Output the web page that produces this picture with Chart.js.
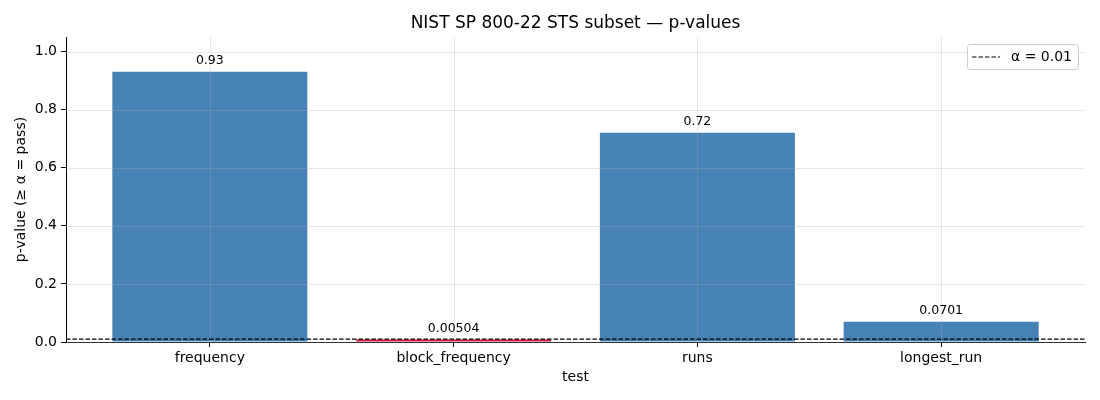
<!DOCTYPE html>
<html>
<head>
<meta charset="utf-8">
<script src="https://cdn.jsdelivr.net/npm/chart.js@4.4.1/dist/chart.umd.min.js"></script>
<style>
  html, body { margin: 0; padding: 0; background: #fff; }
  #wrap { width: 1100px; height: 400px; }
</style>
</head>
<body>
<div id="wrap"><canvas id="chart-pvalues" width="1100" height="400"></canvas></div>
<script>
  "use strict";

  // データ
  var TITLE = 'NIST SP 800-22 STS subset — p-values';
  var CATEGORIES = ['frequency', 'block_frequency', 'runs', 'longest_run'];
  var P_VALUES = [0.93, 0.00504, 0.72, 0.0701];
  var ALPHA = 0.01;
  var Y_TICKS = [0, 0.2, 0.4, 0.6, 0.8, 1.0];
  var X_TICKS = [0, 1, 2, 3];
  var X_MIN = -0.59, X_MAX = 3.59;
  var Y_MIN = 0, Y_MAX = 1.05;

  var FONT = "'DejaVu Sans', sans-serif";
  var GRID_COLOR = 'rgba(176,176,176,0.3)';

  /** 有効数字3桁 (%.3g 相当) */
  function fmt(v) {
    return String(Number(v.toPrecision(3)));
  }

  /** グリッドを棒の上に描く */
  var gridOnTop = {
    id: 'gridOnTop',
    afterDatasetDraw: function(chart, args) {
      if (args.index !== 0) return;
      var ctx = chart.ctx, a = chart.chartArea;
      var xs = chart.scales.x, ys = chart.scales.y;
      ctx.save();
      ctx.strokeStyle = GRID_COLOR;
      ctx.lineWidth = 1;
      ctx.beginPath();
      Y_TICKS.forEach(function(v) {
        var y = Math.round(ys.getPixelForValue(v)) + 0.5;
        ctx.moveTo(a.left, y); ctx.lineTo(a.right, y);
      });
      X_TICKS.forEach(function(v) {
        var x = Math.round(xs.getPixelForValue(v)) + 0.5;
        ctx.moveTo(x, a.top); ctx.lineTo(x, a.bottom);
      });
      ctx.stroke();
      ctx.restore();
    }
  };

  /** 棒の上に値ラベル */
  var barLabels = {
    id: 'barLabels',
    afterDatasetsDraw: function(chart) {
      var ctx = chart.ctx;
      var meta = chart.getDatasetMeta(0);
      ctx.save();
      ctx.font = '12.5px ' + FONT;
      ctx.fillStyle = '#000';
      ctx.textAlign = 'center';
      ctx.textBaseline = 'bottom';
      meta.data.forEach(function(bar, i) {
        ctx.fillText(fmt(P_VALUES[i]), bar.x, bar.y - 5);
      });
      ctx.restore();
    }
  };

  /** タイトル（プロット領域の中央）と枠付き凡例（右上） */
  var titleAndLegend = {
    id: 'titleAndLegend',
    afterDraw: function(chart) {
      var ctx = chart.ctx, a = chart.chartArea;
      var ds = chart.data.datasets[1];
      ctx.save();
      ctx.font = '17px ' + FONT;
      ctx.fillStyle = '#000';
      ctx.textAlign = 'center';
      ctx.textBaseline = 'middle';
      ctx.fillText(TITLE, (a.left + a.right) / 2, 24);

      ctx.textAlign = 'left';
      ctx.font = '14px ' + FONT;
      var tw = ctx.measureText(ds.label).width;
      var w = 44 + tw + 6, h = 25;
      var x = a.right - 7 - w, y = a.top + 7;
      ctx.beginPath();
      ctx.roundRect(x + 0.5, y + 0.5, w, h, 3);
      ctx.fillStyle = 'rgba(255,255,255,0.8)';
      ctx.fill();
      ctx.strokeStyle = '#cccccc';
      ctx.lineWidth = 1;
      ctx.stroke();
      ctx.beginPath();
      ctx.setLineDash(ds.borderDash);
      ctx.strokeStyle = ds.borderColor;
      ctx.lineWidth = ds.borderWidth;
      ctx.moveTo(x + 5, y + h / 2 + 0.5);
      ctx.lineTo(x + 33, y + h / 2 + 0.5);
      ctx.stroke();
      ctx.setLineDash([]);
      ctx.fillStyle = '#000';
      ctx.fillText(ds.label, x + 44, y + h / 2 + 1);
      ctx.restore();
    }
  };

  var barData = P_VALUES.map(function(v, i) { return { x: X_TICKS[i], y: v }; });
  var barColors = P_VALUES.map(function(v) { return v >= ALPHA ? '#4682b4' : '#dc143c'; });

  new Chart(document.getElementById('chart-pvalues'), {
    type: 'bar',
    data: {
      datasets: [
        {
          label: 'p-value',
          data: barData,
          backgroundColor: barColors,
          categoryPercentage: 1.0,
          barPercentage: 0.8,
          minBarLength: 2.5,
          order: 2
        },
        {
          type: 'line',
          label: 'α = 0.01',
          data: [{ x: X_MIN, y: ALPHA }, { x: X_MAX, y: ALPHA }],
          borderColor: '#000',
          borderWidth: 1.2,
          borderDash: [4.5, 2],
          pointRadius: 0,
          fill: false,
          order: 1
        }
      ]
    },
    plugins: [gridOnTop, barLabels, titleAndLegend],
    options: {
      responsive: false,
      animation: false,
      layout: { padding: { left: 0, right: 15, top: 37, bottom: 0 } },
      plugins: {
        legend: { display: false },
        tooltip: { enabled: false },
        title: { display: false }
      },
      scales: {
        x: {
          type: 'linear',
          min: X_MIN,
          max: X_MAX,
          offset: false,
          afterFit: function(s) { s.height = 58; },
          afterBuildTicks: function(s) { s.ticks = X_TICKS.map(function(v) { return { value: v }; }); },
          grid: { display: true, drawOnChartArea: false, offset: false, tickColor: '#000', tickLength: 5 },
          border: { display: true, color: '#000', width: 1 },
          ticks: {
            color: '#000',
            padding: 3,
            maxRotation: 0,
            font: { family: FONT, size: 14 },
            callback: function(v) { return CATEGORIES[v]; }
          },
          title: {
            display: true,
            text: 'test',
            color: '#000',
            font: { family: FONT, size: 14 },
            padding: { top: 0, bottom: 14.6 }
          }
        },
        y: {
          min: Y_MIN,
          max: Y_MAX,
          afterFit: function(s) { s.width = 66; },
          afterBuildTicks: function(s) { s.ticks = Y_TICKS.map(function(v) { return { value: v }; }); },
          grid: { display: true, drawOnChartArea: false, tickColor: '#000', tickLength: 5 },
          border: { display: true, color: '#000', width: 1 },
          ticks: {
            color: '#000',
            padding: 4,
            font: { family: FONT, size: 14 },
            callback: function(v) { return v.toFixed(1); }
          },
          title: {
            display: true,
            text: 'p-value (≥ α = pass)',
            color: '#000',
            font: { family: FONT, size: 14 },
            padding: { top: 12.6, bottom: 0 }
          }
        }
      }
    }
  });
</script>
</body>
</html>
